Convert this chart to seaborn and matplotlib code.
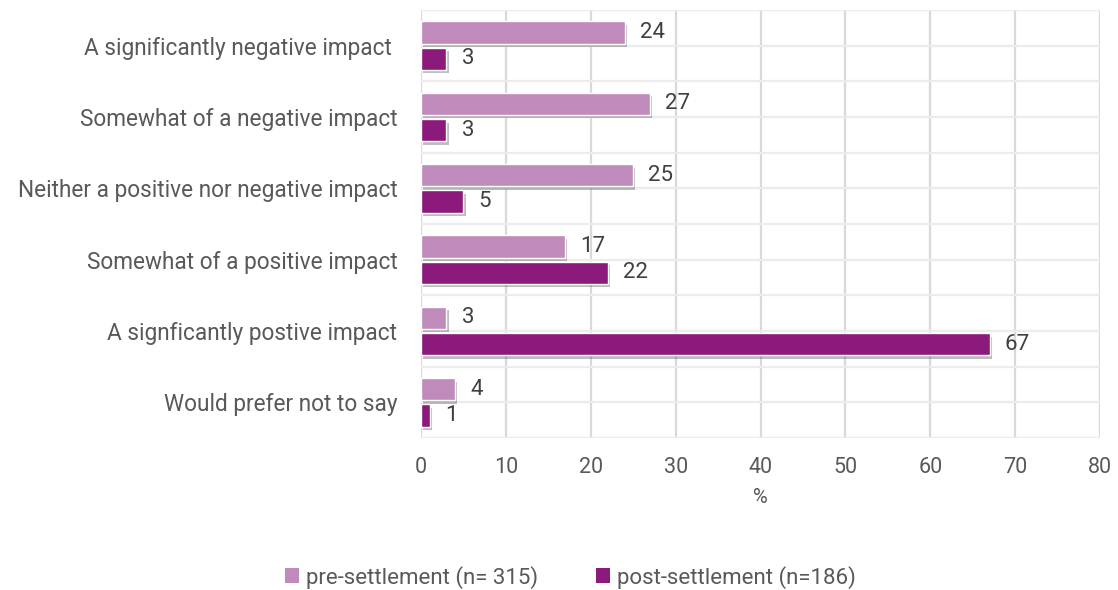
import matplotlib
matplotlib.use("Agg")
import matplotlib.pyplot as plt
import matplotlib.patheffects as pe
from matplotlib.ticker import MultipleLocator
from matplotlib.patches import Patch
import seaborn as sns
import pandas as pd

# Survey answers, top to bottom
categories = [
    "A significantly negative impact ",
    "Somewhat of a negative impact",
    "Neither a positive nor negative impact",
    "Somewhat of a positive impact",
    "A signficantly postive impact",
    "Would prefer not to say",
]
series = ["pre-settlement (n= 315)", "post-settlement (n=186)"]
pre_values = [24, 27, 25, 17, 3, 4]
post_values = [3, 3, 5, 22, 67, 1]
x_ticks = [0, 10, 20, 30, 40, 50, 60, 70, 80]

colors = ["#c08bba", "#8b1a7c"]
text_col = "#595959"

df = pd.DataFrame({
    "answer": categories * 2,
    "group": [series[0]] * len(categories) + [series[1]] * len(categories),
    "pct": pre_values + post_values,
})

sns.set_style("white")
plt.rcParams["font.family"] = ["Roboto", "DejaVu Sans"]

fig = plt.figure(figsize=(11.18, 5.9), dpi=100)
ax = fig.add_axes([0.3766, 0.2576, 0.6073, 0.7254])

sns.barplot(data=df, y="answer", x="pct", hue="group", orient="h",
            palette=colors, saturation=1, width=0.74, gap=0.16,
            legend=False, ax=ax)

shadow = [pe.SimplePatchShadow(offset=(1.5, -2.5), shadow_rgbFace="#444444", alpha=0.35),
          pe.Normal()]
for cont in ax.containers:
    for bar in cont:
        bar.set_path_effects(shadow)
        bar.set_zorder(3)
    ax.bar_label(cont, padding=11, fontsize=16, color="#404040")

ax.set_xlim(0, 80)
ax.set_xticks(x_ticks)
ax.set_ylim(5.5, -0.5)
ax.yaxis.set_minor_locator(MultipleLocator(0.5))
ax.grid(axis="x", color="#d9d9d9", linewidth=1.6, zorder=0)
ax.grid(axis="y", which="both", color="#ececec", linewidth=1.6, zorder=0)
ax.set_axisbelow(True)
for s in ax.spines.values():
    s.set_visible(False)

ax.tick_params(axis="x", length=0, labelsize=15.5, labelcolor=text_col, pad=14)
ax.tick_params(axis="y", which="both", length=0, labelsize=16.3,
               labelcolor=text_col, pad=17)
ax.set_ylabel("")
ax.set_xlabel("%", fontsize=14.5, color=text_col, labelpad=7)

handles = [Patch(facecolor=c, edgecolor="none") for c in colors]
fig.legend(handles, series, loc="center", bbox_to_anchor=(0.51, 0.022), ncol=2,
           frameon=False, fontsize=16, labelcolor=text_col, handlelength=0.65,
           handleheight=0.65, handletextpad=0.3, columnspacing=2.6)

fig.savefig("out.png", dpi=100)
